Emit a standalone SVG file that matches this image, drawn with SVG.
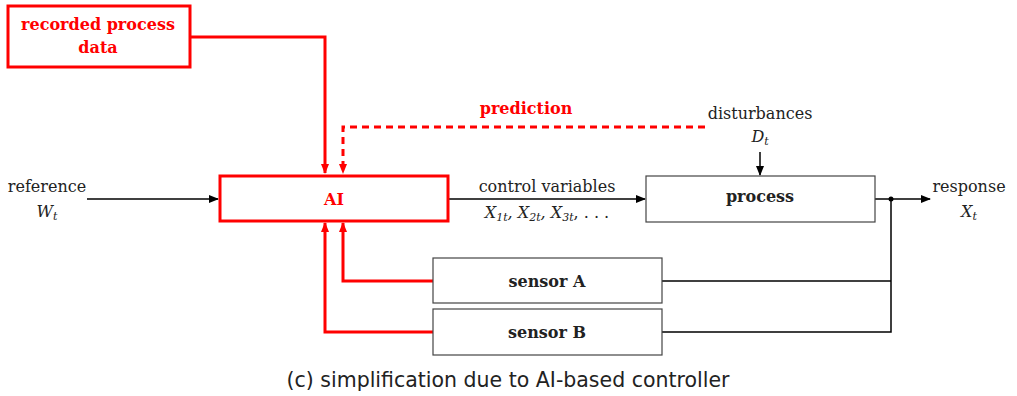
<svg xmlns="http://www.w3.org/2000/svg" width="1017" height="396" viewBox="0 0 1017 396">
<style>
text{font-family:"DejaVu Serif","Liberation Serif",serif;fill:#222;font-size:16px;text-anchor:middle}
.b{font-weight:bold}
.red{fill:#ff0000}
.m{font-style:italic}
.sub{font-size:11px}
.box{fill:#fff;stroke:#444;stroke-width:1.2}
.rbox{fill:#fff;stroke:#ff0000;stroke-width:3}
.k{fill:none;stroke:#000;stroke-width:1.5}
.r{fill:none;stroke:#ff0000;stroke-width:3}
.rd{fill:none;stroke:#ff0000;stroke-width:3;stroke-dasharray:7,5}
.cap{font-family:"DejaVu Sans",sans-serif;font-size:20.5px}
</style>
<defs>
<marker id="ak" markerWidth="10" markerHeight="8" refX="9" refY="4" orient="auto" markerUnits="userSpaceOnUse"><path d="M0,0 L10,4 L0,8 z" fill="#000"/></marker>
<marker id="ar" markerWidth="10" markerHeight="8" refX="9" refY="4" orient="auto" markerUnits="userSpaceOnUse"><path d="M0,0 L10,4 L0,8 z" fill="#ff0000"/></marker>
</defs>
<g id="connectors">
<path class="k" d="M87,199 H218" marker-end="url(#ak)"/>
<path class="k" d="M449,199 H645" marker-end="url(#ak)"/>
<path class="k" d="M760,152 V175" marker-end="url(#ak)"/>
<path class="k" d="M875,199 H930" marker-end="url(#ak)"/>
<path class="k" d="M891,199 V332 H662"/>
<path class="k" d="M891,281 H662"/>
<circle cx="891" cy="199" r="2.5" fill="#000"/>
<path class="r" d="M190,37 H325 V173" marker-end="url(#ar)"/>
<path class="rd" d="M705,127 H343 V173" marker-end="url(#ar)"/>
<path class="r" d="M433,281 H343 V223" marker-end="url(#ar)"/>
<path class="r" d="M433,332 H325 V223" marker-end="url(#ar)"/>
</g>
<g id="recorded">
<rect class="rbox" x="8" y="6" width="182" height="61"/>
<text class="b red" x="98" y="30">recorded process</text>
<text class="b red" x="98" y="53">data</text>
</g>
<g id="ai">
<rect class="rbox" x="220" y="176" width="228" height="45"/>
<text class="b red" x="334" y="205">AI</text>
</g>
<g id="process">
<rect class="box" x="646" y="176" width="229" height="46"/>
<text class="b" x="760" y="202">process</text>
</g>
<g id="sensorA">
<rect class="box" x="433" y="258" width="229" height="45"/>
<text class="b" x="547" y="287">sensor A</text>
</g>
<g id="sensorB">
<rect class="box" x="433" y="309" width="229" height="46"/>
<text class="b" x="547" y="338">sensor B</text>
</g>
<g id="labels">
<text x="47" y="192">reference</text>
<text class="m" x="47" y="217" font-size="15">W<tspan class="sub" dy="3">t</tspan></text>
<text x="547" y="192">control variables</text>
<text class="m" x="547" y="218" font-size="15">X<tspan class="sub" dy="3">1t</tspan><tspan dy="-3">, X</tspan><tspan class="sub" dy="3">2t</tspan><tspan dy="-3">, X</tspan><tspan class="sub" dy="3">3t</tspan><tspan dy="-3" font-style="normal">, . . .</tspan></text>
<text class="b red" x="526" y="114">prediction</text>
<text x="760" y="119">disturbances</text>
<text class="m" x="760" y="142" font-size="15">D<tspan class="sub" dy="3">t</tspan></text>
<text x="969" y="192">response</text>
<text class="m" x="969" y="217" font-size="15">X<tspan class="sub" dy="3">t</tspan></text>
<text class="cap" x="508" y="387">(c) simplification due to AI-based controller</text>
</g>
</svg>
